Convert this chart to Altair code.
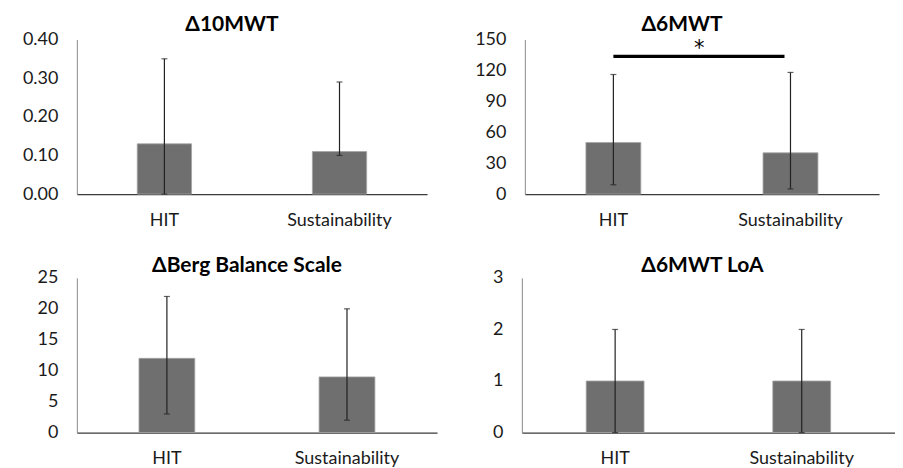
import altair as alt
import pandas as pd

groups = ["HIT", "Sustainability"]

titles = ["Δ10MWT", "Δ6MWT", "ΔBerg Balance Scale", "Δ6MWT LoA"]

mwt10_mean = [0.13, 0.11]
mwt10_low = [0.00, 0.10]
mwt10_high = [0.35, 0.29]

mwt6_mean = [50, 40]
mwt6_low = [9, 5]
mwt6_high = [116, 118]

berg_mean = [12, 9]
berg_low = [3, 2]
berg_high = [22, 20]

loa_mean = [1, 1]
loa_low = [0, 0]
loa_high = [2, 2]

ticks_10 = [0, 0.1, 0.2, 0.3, 0.4]
ticks_6 = [0, 30, 60, 90, 120, 150]
ticks_berg = [0, 5, 10, 15, 20, 25]
ticks_loa = [0, 1, 2, 3]

sig_from = ["HIT"]
sig_to = ["Sustainability"]
sig_y = [133.5]
sig_text = ["*"]
sig_text_y = [141]

FONT = "Lato"
BAR = "#6f6f6f"


def axes(ticks, fmt, extent):
    xs = alt.Scale(paddingInner=0.69, paddingOuter=0.345)
    xa = alt.Axis(labelAngle=0, ticks=False, tickSize=0, labelPadding=17,
                  labelOverlap=False, domainColor="#3a3a3a", domainWidth=1.2)
    ys = alt.Scale(domain=[ticks[0], ticks[-1]], nice=False, zero=True)
    ya = alt.Axis(values=ticks, format=fmt, grid=False, ticks=False, tickSize=0,
                  labelPadding=19, labelOverlap=False, labelFlush=False,
                  minExtent=extent, maxExtent=extent,
                  domainColor="#8a8a8a", domainWidth=1)
    return xs, xa, ys, ya


def panel(title, mean, low, high, ticks, fmt, w, extent, dx, toff, extra=None):
    df = pd.DataFrame({"group": groups, "mean": mean, "low": low, "high": high})
    base = alt.Chart(df)
    xs, xa, ys, ya = axes(ticks, fmt, extent)
    bars = base.mark_bar(color=BAR, stroke="#a5a5a5", strokeWidth=0.8).encode(
        x=alt.X("group:N", sort=groups, title=None, scale=xs, axis=xa),
        y=alt.Y("mean:Q", title=None, scale=ys, axis=ya),
    )
    err = base.mark_errorbar(ticks=True, size=6, thickness=1.2, color="#222222").encode(
        x=alt.X("group:N", sort=groups, title=None, scale=xs, axis=xa),
        y=alt.Y("low:Q", title=None, scale=ys, axis=ya),
        y2="high:Q",
    )
    layers = [bars, err]
    if extra is not None:
        layers += [e(xs, xa, ys, ya) for e in extra]
    return alt.layer(*layers).properties(
        width=w, height=155,
        title=alt.TitleParams(text=title, fontSize=21, fontWeight="bold", font=FONT,
                              color="black", anchor="middle", dx=dx, offset=toff),
    )


sig_df = pd.DataFrame({"a": sig_from, "b": sig_to, "y": sig_y, "t": sig_text, "ty": sig_text_y})


def sig_rule(xs, xa, ys, ya):
    return alt.Chart(sig_df).mark_rule(strokeWidth=3.2, color="black", x2Offset=-6).encode(
        x=alt.X("a:N", sort=groups, title=None, scale=xs, axis=xa), x2="b:N",
        y=alt.Y("y:Q", title=None, scale=ys, axis=ya)
    )


def sig_star(xs, xa, ys, ya):
    return alt.Chart(sig_df).mark_text(fontSize=21, font="DejaVu Sans", color="black", dx=86,
                                       baseline="middle").encode(
        x=alt.X("a:N", sort=groups, title=None, scale=xs, axis=xa),
        y=alt.Y("ty:Q", title=None, scale=ys, axis=ya), text="t:N"
    )


p1 = panel(titles[0], mwt10_mean, mwt10_low, mwt10_high, ticks_10, ".2f", 351, 69, -20, -5)
p2 = panel(titles[1], mwt6_mean, mwt6_low, mwt6_high, ticks_6, "d", 355, 50, -20, -5,
           extra=[sig_rule, sig_star])
p3 = panel(titles[2], berg_mean, berg_low, berg_high, ticks_berg, "d", 361, 60, -10, -7)
p4 = panel(titles[3], loa_mean, loa_low, loa_high, ticks_loa, "d", 374, 30, -6, -7)

row1 = alt.hconcat(p1, p2, spacing=47)
row2 = alt.hconcat(p3, p4, spacing=55)

chart = alt.vconcat(row1, row2, spacing=26).properties(
    padding={"left": 0, "top": 6, "right": 0, "bottom": 0}
).configure_view(stroke=None).configure_axis(
    labelFont=FONT, labelFontSize=18, labelColor="#1a1a1a"
).configure_title(font=FONT)

chart.save("out.html", embed_options={"renderer": "svg", "actions": False})
